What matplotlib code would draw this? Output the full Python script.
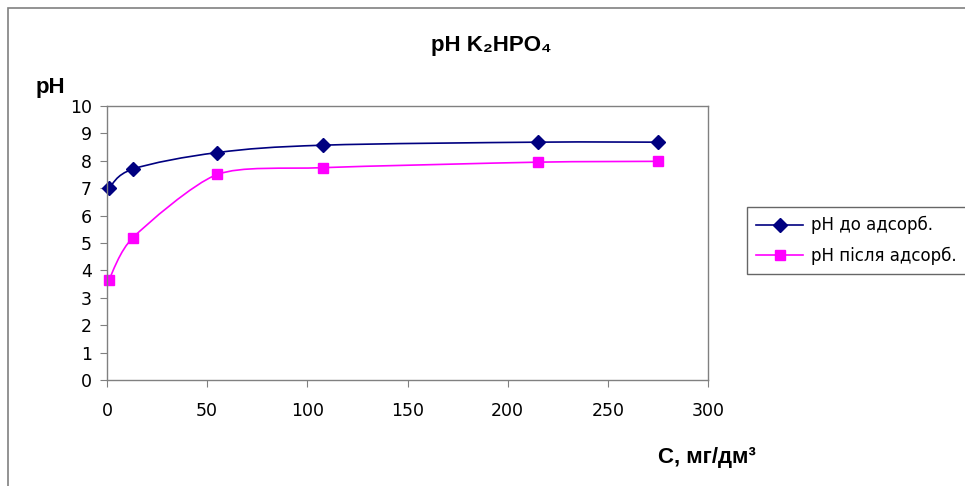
import numpy as np
import matplotlib.pyplot as plt
from matplotlib.path import Path
from matplotlib.patches import PathPatch, Rectangle
from matplotlib.lines import Line2D

# data
conc = [1, 13, 55, 108, 215, 275]
ph_before = [7.0, 7.7, 8.3, 8.57, 8.68, 8.68]
ph_after = [3.66, 5.2, 7.5, 7.75, 7.95, 7.98]

label_before = 'pH до адсорб.'
label_after = 'pH після адсорб.'

blue = '#000080'
magenta = '#FF00FF'


def smooth_path(x, y, k=6.0):
    # Excel-like smoothed line: Catmull-Rom segments as cubic Bezier
    pts = np.column_stack([x, y]).astype(float)
    verts = [pts[0]]
    codes = [Path.MOVETO]
    n = len(pts)
    for i in range(n - 1):
        p0 = pts[i - 1] if i > 0 else pts[i]
        p1 = pts[i]
        p2 = pts[i + 1]
        p3 = pts[i + 2] if i + 2 < n else pts[i + 1]
        c1 = p1 + (p2 - p0) / k
        c2 = p2 - (p3 - p1) / k
        verts += [c1, c2, p2]
        codes += [Path.CURVE4] * 3
    return Path(verts, codes)


fig = plt.figure(figsize=(9.65, 4.86), dpi=100)
fig.patches.append(Rectangle((8 / 965, -0.1), 1.2, (486 - 8) / 486 + 0.1,
                             transform=fig.transFigure, fill=False,
                             edgecolor='#808080', linewidth=1.2))

ax = fig.add_axes([107 / 965, 106 / 486, 601 / 965, 274 / 486])
ax.add_patch(PathPatch(smooth_path(conc, ph_before), fill=False,
                       edgecolor=blue, linewidth=1.2))
ax.add_patch(PathPatch(smooth_path(conc, ph_after, k=8.0), fill=False,
                       edgecolor=magenta, linewidth=1.2))
ax.plot(conc, ph_before, linestyle='none', marker='D', markersize=7,
        color=blue, clip_on=False)
ax.plot(conc, ph_after, linestyle='none', marker='s', markersize=7,
        color=magenta, clip_on=False)

ax.set_xlim(0, 300)
ax.set_ylim(0, 10)
ax.set_xticks(range(0, 301, 50))
ax.set_yticks(range(0, 11))
for s in ax.spines.values():
    s.set_color('#808080')
    s.set_linewidth(1.0)
ax.tick_params(axis='both', colors='#808080', labelcolor='black',
               labelsize=12.5, length=5, direction='out')
ax.tick_params(axis='x', pad=11)
ax.tick_params(axis='y', pad=6)

bold_fonts = ['Liberation Sans Narrow', 'Liberation Sans', 'DejaVu Sans']
fig.text(491 / 965, 1 - 45 / 486, 'pH K\u2082HPO\u2084', ha='center', va='center',
         fontsize=16, fontweight='bold', family=bold_fonts)
fig.text(50 / 965, 1 - 87 / 486, 'pH', ha='center', va='center',
         fontsize=16, fontweight='bold', family=bold_fonts)
fig.text(707 / 965, 1 - 457 / 486, 'C, мг/дм\u00b3', ha='center', va='center',
         fontsize=16, fontweight='bold', family=bold_fonts)

handles = [Line2D([], [], color=blue, marker='D', markersize=7, linewidth=1.2),
           Line2D([], [], color=magenta, marker='s', markersize=7, linewidth=1.2)]
leg = fig.legend(handles, [label_before, label_after], loc='upper left',
                 bbox_to_anchor=(747 / 965, 1 - 207 / 486), fontsize=12,
                 frameon=True, fancybox=False, borderaxespad=0,
                 handlelength=2.8, handletextpad=0.5, labelspacing=0.75,
                 borderpad=0.55)
leg.get_frame().set_edgecolor('#404040')
leg.get_frame().set_linewidth(1.0)

fig.savefig('out.png', dpi=100)
